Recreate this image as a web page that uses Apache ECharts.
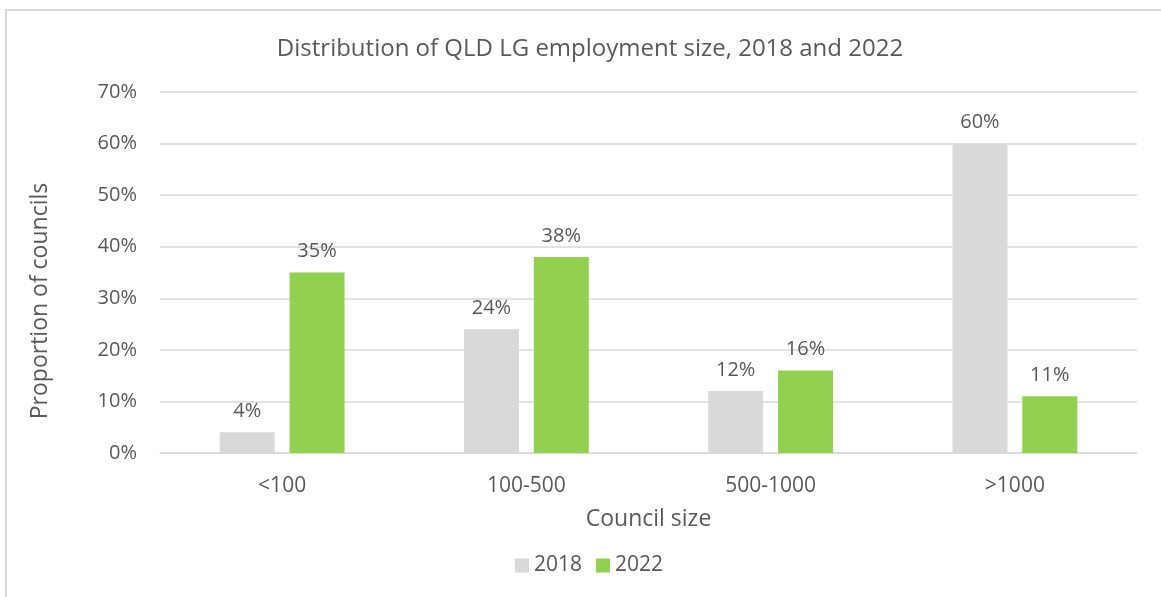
<!DOCTYPE html>
<html>
<head>
<meta charset="utf-8">
<script src="https://cdn.jsdelivr.net/npm/echarts@6/dist/echarts.min.js"></script>
<style>
  html, body { margin: 0; padding: 0; background: #fff; }
  #frame { position: absolute; left: 5px; top: 9px; width: 1170px; height: 610px; border: 2px solid #d9d9d9; box-sizing: border-box; }
  #chart { position: absolute; left: 0; top: 0; width: 1161px; height: 597px; }
</style>
</head>
<body>
<div id="frame"></div>
<div id="chart"></div>
<script>
// Council size bands and share of councils in each band
const categories = ['<100', '100-500', '500-1000', '>1000'];
const share2018 = [4, 24, 12, 60];
const share2022 = [35, 38, 16, 11];
const yTicks = [0, 10, 20, 30, 40, 50, 60, 70];

const textColor = '#595959';
const fontFamily = '"Open Sans", "Noto Sans", sans-serif';

const chart = echarts.init(document.getElementById('chart'));

const valueLabel = {
  show: true,
  position: 'top',
  distance: 11,
  color: textColor,
  fontSize: 20,
  fontFamily: fontFamily,
  formatter: p => p.value + '%'
};

chart.setOption({
  animation: false,
  title: {
    text: 'Distribution of QLD LG employment size, 2018 and 2022',
    left: 585,
    textAlign: 'center',
    top: 32,
    textStyle: { color: textColor, fontSize: 24, fontWeight: 'normal', fontFamily: fontFamily }
  },
  legend: {
    data: ['2018', '2022'],
    left: 510,
    top: 550,
    itemWidth: 14,
    itemHeight: 14,
    itemGap: 14,
    icon: 'rect',
    textStyle: { color: textColor, fontSize: 21, fontFamily: fontFamily }
  },
  // vertical axis title, sitting a little below the plot's midline
  graphic: [{
    type: 'text',
    x: 40,
    y: 301,
    rotation: Math.PI / 2,
    style: {
      text: 'Proportion of councils',
      fill: textColor,
      font: '23px "Open Sans", "Noto Sans", sans-serif',
      align: 'center',
      verticalAlign: 'middle'
    }
  }],
  grid: { left: 160, right: 24, top: 92, bottom: 144, containLabel: false },
  xAxis: {
    type: 'category',
    data: categories,
    name: 'Council size',
    nameLocation: 'middle',
    nameGap: 55,
    nameTextStyle: { color: textColor, fontSize: 23, fontFamily: fontFamily },
    axisLine: { lineStyle: { color: '#d9d9d9', width: 1.5 } },
    axisTick: { show: false },
    axisLabel: { color: textColor, fontSize: 21, fontFamily: fontFamily, margin: 23 }
  },
  yAxis: {
    type: 'value',
    min: yTicks[0],
    max: yTicks[yTicks.length - 1],
    interval: 10,
    axisLine: { show: false },
    axisTick: { show: false },
    axisLabel: { color: textColor, fontSize: 20, fontFamily: fontFamily, margin: 23, formatter: v => v + '%' },
    splitLine: { lineStyle: { color: '#d9d9d9', width: 1.5 } }
  },
  series: [
    {
      name: '2018',
      type: 'bar',
      data: share2018,
      barWidth: 55,
      barGap: '27%',
      itemStyle: { color: '#d9d9d9' },
      label: valueLabel
    },
    {
      name: '2022',
      type: 'bar',
      data: share2022,
      barWidth: 55,
      itemStyle: { color: '#92d050' },
      label: valueLabel
    }
  ]
});
</script>
</body>
</html>
